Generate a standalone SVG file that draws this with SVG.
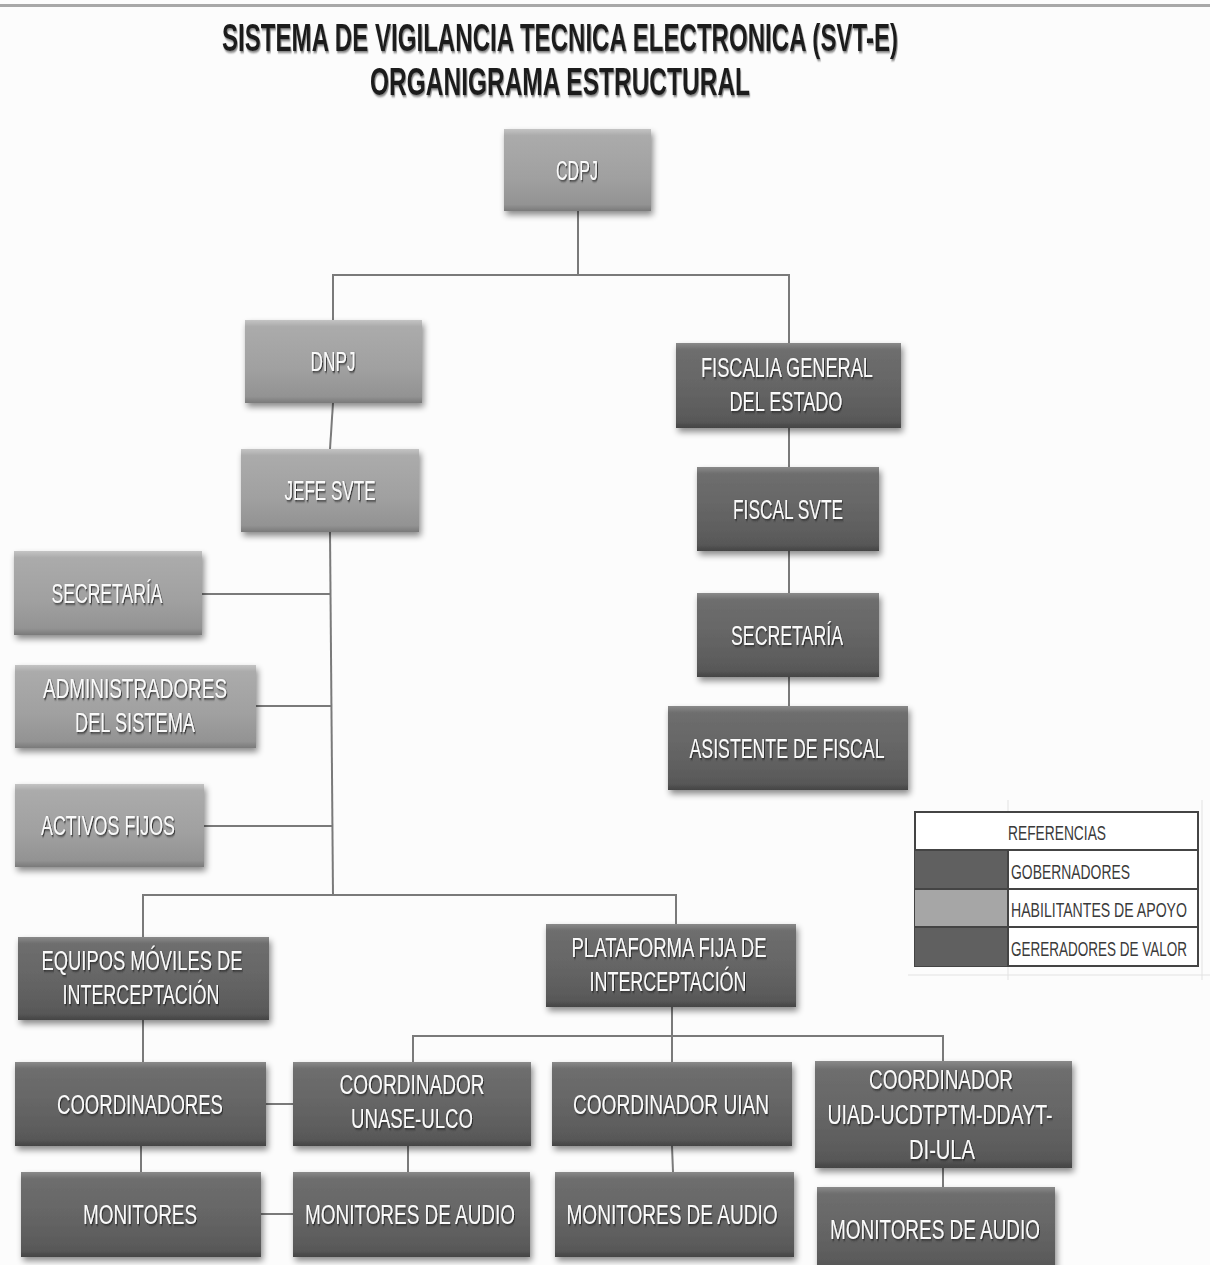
<svg xmlns="http://www.w3.org/2000/svg" width="1210" height="1265" viewBox="0 0 1210 1265">
<defs>
<linearGradient id="gL" x1="0" y1="0" x2="0" y2="1">
<stop offset="0" stop-color="#c4c4c4"/>
<stop offset="0.08" stop-color="#ababab"/>
<stop offset="0.6" stop-color="#a0a0a0"/>
<stop offset="0.92" stop-color="#939393"/>
<stop offset="1" stop-color="#7a7a7a"/>
</linearGradient>
<linearGradient id="gD" x1="0" y1="0" x2="0" y2="1">
<stop offset="0" stop-color="#8a8a8a"/>
<stop offset="0.08" stop-color="#6e6e6e"/>
<stop offset="0.6" stop-color="#636363"/>
<stop offset="0.92" stop-color="#585858"/>
<stop offset="1" stop-color="#444"/>
</linearGradient>
<filter id="sh" x="-10%" y="-10%" width="125%" height="135%">
<feDropShadow dx="2" dy="4" stdDeviation="3" flood-color="#000" flood-opacity="0.45"/>
</filter>
<filter id="ts" x="-5%" y="-20%" width="110%" height="150%">
<feDropShadow dx="1.5" dy="1.5" stdDeviation="0.8" flood-color="#222" flood-opacity="0.9"/>
</filter>
<filter id="tts" x="-5%" y="-20%" width="110%" height="150%">
<feDropShadow dx="1.5" dy="2" stdDeviation="1.2" flood-color="#777" flood-opacity="0.9"/>
</filter>
</defs>
<style>
.light{fill:url(#gL);filter:url(#sh);}
.dark{fill:url(#gD);filter:url(#sh);}
.t{font-family:"Liberation Sans",Arial,sans-serif;font-size:27px;fill:#fafafa;text-anchor:middle;filter:url(#ts);}
.title{font-family:"Liberation Sans",Arial,sans-serif;font-weight:bold;font-size:38px;fill:#1a1a1a;text-anchor:middle;filter:url(#tts);}
.conn line,.conn polyline{stroke:#7a7a7a;stroke-width:2;fill:none;}
.lg{font-family:"Liberation Sans",Arial,sans-serif;font-size:20px;fill:#3a3a3a;}
</style>
<rect width="1210" height="1265" fill="#fcfcfc"/>
<rect x="0" y="4" width="1210" height="3" fill="#a8a8a8"/>

<g id="title">
<text class="title" transform="translate(560,51) scale(0.55,1)" textLength="1229" lengthAdjust="spacingAndGlyphs">SISTEMA DE VIGILANCIA TECNICA ELECTRONICA (SVT-E)</text>
<text class="title" transform="translate(560,95) scale(0.55,1)" textLength="691" lengthAdjust="spacingAndGlyphs">ORGANIGRAMA ESTRUCTURAL</text>
</g>

<g id="connectors" class="conn">
<polyline points="578,211 578,275"/>
<polyline points="333,320 333,275 789,275 789,343"/>
<line x1="333" y1="403" x2="330" y2="449"/>
<line x1="789" y1="428" x2="789" y2="467"/>
<line x1="789" y1="551" x2="789" y2="593"/>
<line x1="789" y1="677" x2="789" y2="706"/>
<line x1="330" y1="532" x2="333" y2="895"/>
<line x1="202" y1="594" x2="331" y2="594"/>
<line x1="256" y1="706" x2="332" y2="706"/>
<line x1="204" y1="826" x2="332" y2="826"/>
<polyline points="143,937 143,895 676,895 676,924"/>
<line x1="672" y1="1007" x2="672" y2="1036"/>
<polyline points="413,1062 413,1036 943,1036 943,1061"/>
<line x1="672" y1="1036" x2="672" y2="1062"/>
<line x1="143" y1="1020" x2="143" y2="1062"/>
<line x1="266" y1="1104" x2="293" y2="1104"/>
<line x1="141" y1="1146" x2="141" y2="1172"/>
<line x1="261" y1="1214" x2="293" y2="1214"/>
<line x1="408" y1="1146" x2="408" y2="1172"/>
<line x1="672" y1="1146" x2="673" y2="1172"/>
<line x1="943" y1="1168" x2="943" y2="1187"/>
</g>

<g id="n-cdpj"><rect class="light" x="504" y="129" width="147" height="82"/><text class="t" transform="translate(577,180) scale(0.66,1)" textLength="63.6" lengthAdjust="spacingAndGlyphs">CDPJ</text></g>
<g id="n-dnpj"><rect class="light" x="245" y="320" width="177" height="83"/><text class="t" transform="translate(333,371) scale(0.66,1)" textLength="68.2" lengthAdjust="spacingAndGlyphs">DNPJ</text></g>
<g id="n-fiscalia"><rect class="dark" x="676" y="343" width="225" height="85"/><text class="t" transform="translate(787,377) scale(0.66,1)" textLength="260.6" lengthAdjust="spacingAndGlyphs">FISCALIA GENERAL</text><text class="t" transform="translate(786,411) scale(0.66,1)" textLength="171.2" lengthAdjust="spacingAndGlyphs">DEL ESTADO</text></g>
<g id="n-jefe"><rect class="light" x="241" y="449" width="178" height="83"/><text class="t" transform="translate(330,500) scale(0.66,1)" textLength="137.9" lengthAdjust="spacingAndGlyphs">JEFE SVTE</text></g>
<g id="n-fiscal"><rect class="dark" x="697" y="467" width="182" height="84"/><text class="t" transform="translate(788,519) scale(0.66,1)" textLength="166.7" lengthAdjust="spacingAndGlyphs">FISCAL SVTE</text></g>
<g id="n-secretaria1"><rect class="light" x="14" y="551" width="188" height="84"/><text class="t" transform="translate(107,603) scale(0.66,1)" textLength="168.2" lengthAdjust="spacingAndGlyphs">SECRETARÍA</text></g>
<g id="n-secretaria2"><rect class="dark" x="697" y="593" width="182" height="84"/><text class="t" transform="translate(787,645) scale(0.66,1)" textLength="169.7" lengthAdjust="spacingAndGlyphs">SECRETARÍA</text></g>
<g id="n-admin"><rect class="light" x="15" y="665" width="241" height="83"/><text class="t" transform="translate(135,698) scale(0.66,1)" textLength="278.8" lengthAdjust="spacingAndGlyphs">ADMINISTRADORES</text><text class="t" transform="translate(135,732) scale(0.66,1)" textLength="181.8" lengthAdjust="spacingAndGlyphs">DEL SISTEMA</text></g>
<g id="n-asistente"><rect class="dark" x="668" y="706" width="240" height="84"/><text class="t" transform="translate(787,758) scale(0.66,1)" textLength="295.5" lengthAdjust="spacingAndGlyphs">ASISTENTE DE FISCAL</text></g>
<g id="n-activos"><rect class="light" x="15" y="784" width="189" height="83"/><text class="t" transform="translate(108,835) scale(0.66,1)" textLength="203" lengthAdjust="spacingAndGlyphs">ACTIVOS FIJOS</text></g>
<g id="n-equipos"><rect class="dark" x="18" y="937" width="251" height="83"/><text class="t" transform="translate(142,970) scale(0.66,1)" textLength="304.5" lengthAdjust="spacingAndGlyphs">EQUIPOS MÓVILES DE</text><text class="t" transform="translate(141,1004) scale(0.66,1)" textLength="237.9" lengthAdjust="spacingAndGlyphs">INTERCEPTACIÓN</text></g>
<g id="n-plataforma"><rect class="dark" x="546" y="924" width="250" height="83"/><text class="t" transform="translate(669,957) scale(0.66,1)" textLength="295.5" lengthAdjust="spacingAndGlyphs">PLATAFORMA FIJA DE</text><text class="t" transform="translate(668,991) scale(0.66,1)" textLength="237.9" lengthAdjust="spacingAndGlyphs">INTERCEPTACIÓN</text></g>
<g id="n-coordinadores"><rect class="dark" x="15" y="1062" width="251" height="84"/><text class="t" transform="translate(140,1114) scale(0.66,1)" textLength="251.5" lengthAdjust="spacingAndGlyphs">COORDINADORES</text></g>
<g id="n-unase"><rect class="dark" x="293" y="1062" width="238" height="84"/><text class="t" transform="translate(412,1094) scale(0.66,1)" textLength="219.7" lengthAdjust="spacingAndGlyphs">COORDINADOR</text><text class="t" transform="translate(412,1128) scale(0.66,1)" textLength="184.8" lengthAdjust="spacingAndGlyphs">UNASE-ULCO</text></g>
<g id="n-uian"><rect class="dark" x="552" y="1062" width="240" height="84"/><text class="t" transform="translate(671,1114) scale(0.66,1)" textLength="297" lengthAdjust="spacingAndGlyphs">COORDINADOR UIAN</text></g>
<g id="n-uiad"><rect class="dark" x="815" y="1061" width="257" height="107"/><text class="t" transform="translate(941,1089) scale(0.66,1)" textLength="218.2" lengthAdjust="spacingAndGlyphs">COORDINADOR</text><text class="t" transform="translate(940,1124) scale(0.66,1)" textLength="340.9" lengthAdjust="spacingAndGlyphs">UIAD-UCDTPTM-DDAYT-</text><text class="t" transform="translate(942,1159) scale(0.66,1)" textLength="100" lengthAdjust="spacingAndGlyphs">DI-ULA</text></g>
<g id="n-monitores"><rect class="dark" x="21" y="1172" width="240" height="85"/><text class="t" transform="translate(140,1224) scale(0.66,1)" textLength="172.7" lengthAdjust="spacingAndGlyphs">MONITORES</text></g>
<g id="n-audio1"><rect class="dark" x="293" y="1172" width="237" height="85"/><text class="t" transform="translate(410,1224) scale(0.66,1)" textLength="318.2" lengthAdjust="spacingAndGlyphs">MONITORES DE AUDIO</text></g>
<g id="n-audio2"><rect class="dark" x="555" y="1172" width="239" height="85"/><text class="t" transform="translate(672,1224) scale(0.66,1)" textLength="319.7" lengthAdjust="spacingAndGlyphs">MONITORES DE AUDIO</text></g>
<g id="n-audio3"><rect class="dark" x="817" y="1187" width="238" height="85"/><text class="t" transform="translate(935,1239) scale(0.66,1)" textLength="318.2" lengthAdjust="spacingAndGlyphs">MONITORES DE AUDIO</text></g>

<g id="legend">
<g stroke="#e2e2e2" stroke-width="1">
<line x1="1008" y1="800" x2="1008" y2="980"/>
<line x1="1202" y1="800" x2="1202" y2="980"/>
<line x1="908" y1="975" x2="1210" y2="975"/>
</g>
<rect x="915" y="812" width="283" height="154" fill="#fff" stroke="#444" stroke-width="2"/>
<rect x="915" y="850" width="93" height="39" fill="#606060"/>
<rect x="915" y="889" width="93" height="38" fill="#a6a6a6"/>
<rect x="915" y="927" width="93" height="39" fill="#606060"/>
<g stroke="#444" stroke-width="2">
<line x1="915" y1="850" x2="1198" y2="850"/>
<line x1="915" y1="889" x2="1198" y2="889"/>
<line x1="915" y1="927" x2="1198" y2="927"/>
<line x1="1008" y1="850" x2="1008" y2="966"/>
</g>
<text class="lg" transform="translate(1057,840) scale(0.7,1)" text-anchor="middle" textLength="140" lengthAdjust="spacingAndGlyphs">REFERENCIAS</text>
<text class="lg" transform="translate(1011,879) scale(0.7,1)" textLength="170" lengthAdjust="spacingAndGlyphs">GOBERNADORES</text>
<text class="lg" transform="translate(1011,917) scale(0.7,1)" textLength="251.4" lengthAdjust="spacingAndGlyphs">HABILITANTES DE APOYO</text>
<text class="lg" transform="translate(1011,956) scale(0.7,1)" textLength="251.4" lengthAdjust="spacingAndGlyphs">GERERADORES DE VALOR</text>
</g>
</svg>
